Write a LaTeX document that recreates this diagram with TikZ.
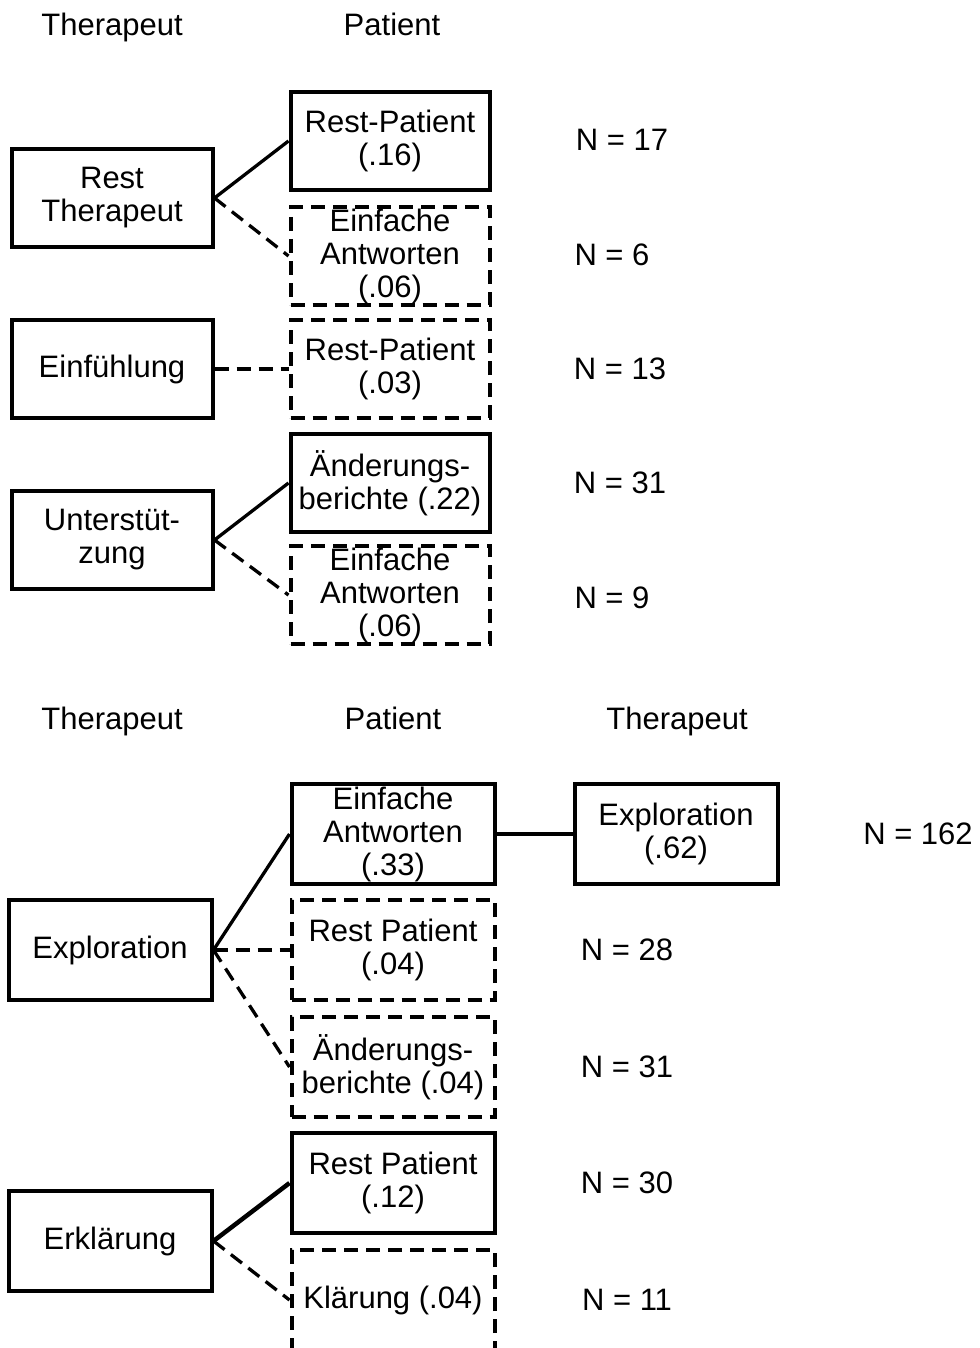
\documentclass[tikz,border=0pt]{standalone}
\usepackage{fontspec}
\setmainfont{Liberation Sans}
\begin{document}
\begin{tikzpicture}[x=1pt,y=-1pt,
  every node/.style={font=\fontsize{31}{33}\selectfont, align=center, inner sep=0pt},
  hdr/.style={anchor=base},
  sbox/.style={draw, line width=4pt, minimum width=201pt, minimum height=98pt},
  dbox/.style={sbox, dash pattern=on 14pt off 8pt},
  bbox/.style={draw, line width=4pt, minimum width=203pt, minimum height=100pt},
  dbbox/.style={bbox, dash pattern=on 14pt off 8pt},
  sline/.style={line width=3.3pt},
  dline/.style={line width=3.3pt, dash pattern=on 14pt off 8pt}]
\useasboundingbox (0,0) rectangle (979,1348);
% headers top
\node[hdr] (h1) at (112,36) {Therapeut};
\node[hdr] (h2) at (392,36) {Patient};
% top section
\node[sbox] (rt) at (112,198) {Rest\\Therapeut};
\node[sbox, minimum width=199pt] (rp1) at (390,141) {Rest-Patient\\(.16)};
\node[dbox, minimum width=199pt] (ea1) at (390,256) {Einfache\\Antworten\\(.06)};
\node (n1) at (622,140) {N = 17};
\node (n2) at (612,255) {N = 6};
\node[sbox] (ef) at (112,369) {Einfühlung};
\node[dbox, minimum width=199pt] (rp2) at (390,369) {Rest-Patient\\(.03)};
\node (n3) at (620,369) {N = 13};
\node[sbox] (us) at (112,540) {Unterstüt-\\zung};
\node[sbox, minimum width=199pt] (ab1) at (390,483) {Änderungs-\\berichte (.22)};
\node[dbox, minimum width=199pt] (ea2) at (390,595) {Einfache\\Antworten\\(.06)};
\node (n4) at (620,483) {N = 31};
\node (n5) at (612,598) {N = 9};
\draw[sline] (rt.east) -- (rp1.west);
\draw[dline] (rt.east) -- (ea1.west);
\draw[dline] (ef.east) -- (rp2.west);
\draw[sline] (us.east) -- (ab1.west);
\draw[dline] (us.east) -- (ea2.west);
% headers bottom
\node[hdr] (h3) at (112,729) {Therapeut};
\node[hdr] (h4) at (393,729) {Patient};
\node[hdr] (h5) at (677,729) {Therapeut};
% bottom section
\node[bbox] (ea3) at (393,834) {Einfache\\Antworten\\(.33)};
\node[bbox] (ex2) at (676,834) {Exploration\\(.62)};
\node (n6) at (918,834) {N = 162};
\node[bbox] (ex1) at (110,950) {Exploration};
\node[dbbox] (rp3) at (393,950) {Rest Patient\\(.04)};
\node (n7) at (627,950) {N = 28};
\node[dbbox] (ab2) at (393,1067) {Änderungs-\\berichte (.04)};
\node (n8) at (627,1067) {N = 31};
\node[bbox] (rp4) at (393,1183) {Rest Patient\\(.12)};
\node (n9) at (627,1183) {N = 30};
\node[bbox] (er) at (110,1241) {Erklärung};
\node[dbbox] (kl) at (393,1300) {Klärung (.04)};
\node (n10) at (627,1300) {N = 11};
\draw[sline] (ea3.east) -- (ex2.west);
\draw[sline] (ex1.east) -- (ea3.west);
\draw[dline] (ex1.east) -- (rp3.west);
\draw[dline] (ex1.east) -- (ab2.west);
\draw[line width=4.5pt] (er.east) -- (rp4.west);
\draw[dline] (er.east) -- (kl.west);
\end{tikzpicture}
\end{document}
